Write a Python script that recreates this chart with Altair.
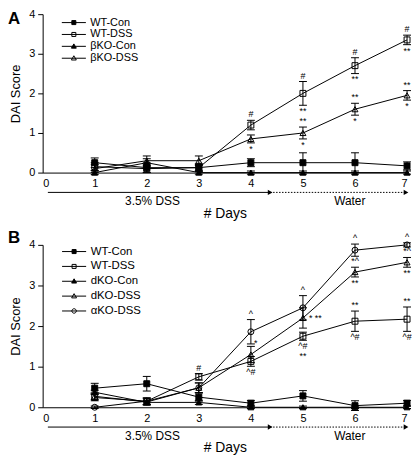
import altair as alt
import pandas as pd

FONT = "Liberation Sans"
W = 368

days = [1, 2, 3, 4, 5, 6, 7]

# ---------- Panel A ----------
a_series = ["WT-Con", "WT-DSS", "βKO-Con", "βKO-DSS"]
a_values = [
    [0.25, 0.125, 0.125, 0.25, 0.25, 0.25, 0.17],
    [0.15, 0.10, 0.125, 1.20, 2.00, 2.70, 3.35],
    [0.00, 0.25, 0.00, 0.00, 0.00, 0.00, 0.00],
    [0.10, 0.30, 0.30, 0.85, 1.00, 1.60, 1.95],
]
a_errors = [
    [0.12, 0.12, 0.10, 0.10, 0.25, 0.25, 0.10],
    [0.10, 0.10, 0.08, 0.12, 0.30, 0.20, 0.12],
    [0.05, 0.10, 0.04, 0.04, 0.04, 0.04, 0.04],
    [0.10, 0.12, 0.12, 0.10, 0.15, 0.15, 0.12],
]
a_shapes = ["square", "square", "triangle-up", "triangle-up"]
a_filled = [True, False, True, False]
a_ann_series = ["WT-DSS"] * 7 + ["βKO-DSS"] * 7
a_ann_day = [4, 5, 5, 6, 6, 7, 7, 4, 5, 5, 6, 6, 7, 7]
a_ann_text = ["#", "#", "**", "#", "**", "#", "**", "*", "**", "*", "**", "*", "**", "*"]
a_ann_side = ["above", "above", "below", "above", "below", "above", "below",
              "below", "above", "below", "above", "below", "above", "below"]

# ---------- Panel B ----------
b_series = ["WT-Con", "WT-DSS", "dKO-Con", "dKO-DSS", "αKO-DSS"]
b_values = [
    [0.47, 0.58, 0.25, 0.10, 0.28, 0.04, 0.10],
    [0.24, 0.15, 0.75, 1.13, 1.75, 2.12, 2.17],
    [0.37, 0.12, 0.12, 0.00, 0.00, 0.00, 0.00],
    [0.27, 0.13, 0.48, 1.30, 2.20, 3.33, 3.57],
    [0.00, 0.15, 0.48, 1.86, 2.45, 3.87, 4.00],
]
b_errors = [
    [0.12, 0.18, 0.10, 0.07, 0.13, 0.12, 0.07],
    [0.08, 0.08, 0.08, 0.12, 0.10, 0.25, 0.30],
    [0.05, 0.05, 0.05, 0.03, 0.03, 0.03, 0.03],
    [0.08, 0.08, 0.12, 0.20, 0.25, 0.12, 0.12],
    [0.03, 0.08, 0.12, 0.30, 0.30, 0.15, 0.05],
]
b_shapes = ["square", "square", "triangle-up", "triangle-up", "circle"]
b_filled = [True, False, True, False, False]
b_ann_series = (["αKO-DSS"] * 4 + ["dKO-DSS"] * 6 + ["WT-DSS"] * 8)
b_ann_day = [4, 5, 6, 7, 4, 5, 6, 6, 7, 7, 3, 4, 5, 5, 6, 6, 7, 7]
b_ann_text = ["^", "^", "^", "^", "*", "* **", "*^", "**", "*^", "**",
              "#", "^#", "^#", "**", "**", "^#", "**", "^#"]
b_ann_side = ["above", "above", "above", "above", "aboveright", "right", "above", "below", "above", "below",
              "above", "below", "below", "below2", "above", "below", "above", "below"]

# treatment phases along the day axis
phase_start = [0.1, 4.37]
phase_end = [4.37, 6.98]
phase_label = ["3.5% DSS", "Water"]
phase_label_x = [2.11, 5.9]

# legend glyphs (line through marker)
GLYPH = {
    "square": "M-2.7,0H2.7M-0.45,-0.45H0.45V0.45H-0.45Z",
    "triangle-up": "M-2.7,0H2.7M0,-0.55L0.55,0.4L-0.55,0.4Z",
    "circle": "M-2.7,0H2.7M-0.5,0A0.5,0.5,0,1,0,0.5,0A0.5,0.5,0,1,0,-0.5,0Z",
}


def x_enc(field):
    return alt.X(field, type="quantitative",
                 scale=alt.Scale(domain=[0, 7], nice=False, zero=False),
                 axis=alt.Axis(values=list(range(8)), ticks=False, tickSize=0, grid=False,
                               labelPadding=5, labelFontSize=11, title="# Days",
                               titleFontSize=14, titleY=34, titleBaseline="top"))


def y_enc(field):
    return alt.Y(field, type="quantitative",
                 scale=alt.Scale(domain=[0, 4], nice=False),
                 axis=alt.Axis(values=[0, 1, 2, 3, 4], tickSize=5, grid=False, format="d",
                               labelFontSize=11, labelPadding=3, title="DAI Score",
                               titleFontSize=13, titlePadding=6))


def panel(letter, series, values, errors, shapes, filled,
          ann_series, ann_day, ann_text, ann_side, legend_y, row_pad, label_size, height):
    H = height
    rows = []
    for s, vals, errs in zip(series, values, errors):
        for d, v, e in zip(days, vals, errs):
            rows.append({"series": s, "day": d, "value": v, "lo": v - e, "hi": v + e})
    df = pd.DataFrame(rows)

    ann = pd.DataFrame({"series": ann_series, "day": ann_day, "text": ann_text, "side": ann_side})
    ann = ann.merge(df, on=["series", "day"], how="left")

    fills = ["black" if f else "transparent" for f in filled]
    base = alt.Chart(df)

    lines = base.mark_line(color="black", strokeWidth=1).encode(
        x=x_enc("day"), y=y_enc("value"), detail="series:N", order="day:Q")
    stems = base.mark_rule(color="black", strokeWidth=1).encode(
        x=x_enc("day"), y=y_enc("lo"), y2="hi:Q")
    cap_hi = base.mark_tick(color="black", orient="horizontal", size=8, thickness=1, opacity=1).encode(
        x=x_enc("day"), y=y_enc("hi"))
    cap_lo = base.mark_tick(color="black", orient="horizontal", size=8, thickness=1, opacity=1).encode(
        x=x_enc("day"), y=y_enc("lo"))
    points = base.mark_point(opacity=1, size=36, strokeWidth=1, stroke="black").encode(
        x=x_enc("day"), y=y_enc("value"),
        shape=alt.Shape("series:N", scale=alt.Scale(domain=series, range=shapes), legend=None),
        fill=alt.Fill("series:N", scale=alt.Scale(domain=series, range=fills), legend=None),
    )

    leg = alt.Legend(orient="none", legendX=26, legendY=legend_y, title=None,
                     labelFont=FONT, labelFontSize=label_size, labelColor="black",
                     symbolSize=81, symbolStrokeWidth=1, rowPadding=row_pad,
                     labelOffset=11, padding=0)
    legend_layer = base.transform_filter("false").mark_point(opacity=1, size=81, strokeWidth=1).encode(
        x=x_enc("day"), y=y_enc("value"),
        shape=alt.Shape("series:N", scale=alt.Scale(domain=series, range=[GLYPH[s] for s in shapes]), legend=leg),
        fill=alt.Fill("series:N", scale=alt.Scale(domain=series, range=fills), legend=leg),
        stroke=alt.Stroke("series:N", scale=alt.Scale(domain=series, range=["black"] * len(series)), legend=leg),
    )

    tbase = alt.Chart(ann)
    tstyle = dict(font=FONT, fontSize=9, color="black")
    t_above = tbase.transform_filter("datum.side == 'above'").mark_text(
        baseline="bottom", dy=-1, **tstyle).encode(x=x_enc("day"), y=y_enc("hi"), text="text:N")
    t_aboveright = tbase.transform_filter("datum.side == 'aboveright'").mark_text(
        baseline="bottom", dy=2, dx=5, **tstyle).encode(x=x_enc("day"), y=y_enc("hi"), text="text:N")
    t_below = tbase.transform_filter("datum.side == 'below'").mark_text(
        baseline="top", dy=2, **tstyle).encode(x=x_enc("day"), y=y_enc("lo"), text="text:N")
    t_below2 = tbase.transform_filter("datum.side == 'below2'").mark_text(
        baseline="top", dy=12, **tstyle).encode(x=x_enc("day"), y=y_enc("lo"), text="text:N")
    t_right = tbase.transform_filter("datum.side == 'right'").mark_text(
        baseline="middle", align="left", dx=6, **tstyle).encode(x=x_enc("day"), y=y_enc("value"), text="text:N")

    ph = pd.DataFrame({"start": phase_start, "end": phase_end, "label": phase_label, "lx": phase_label_x})
    pb = alt.Chart(ph)
    arrow_solid = pb.transform_filter("datum.label == '3.5% DSS'").mark_rule(color="black", strokeWidth=1).encode(
        x=x_enc("start"), x2="end:Q", y=alt.value(H + 20))
    arrow_dot = pb.transform_filter("datum.label == 'Water'").mark_rule(
        color="black", strokeWidth=1, strokeDash=[1.5, 1.5]).encode(
        x=x_enc("start"), x2="end:Q", y=alt.value(H + 20))
    heads = pb.mark_point(shape="triangle-right", filled=True, color="black", size=30, opacity=1).encode(
        x=x_enc("end"), y=alt.value(H + 20))
    ph_text = pb.mark_text(font=FONT, fontSize=12, color="black", baseline="middle").encode(
        x=x_enc("lx"), y=alt.value(H + 29), text="label:N")

    letter_layer = alt.Chart(pd.DataFrame({"t": [letter]})).mark_text(
        font=FONT, fontSize=17, fontWeight="bold", color="black", align="left", baseline="top").encode(
        x=alt.value(-35), y=alt.value(-15 if letter == "B" else -3), text="t:N")

    return alt.layer(
        lines, stems, cap_hi, cap_lo, points, legend_layer,
        t_above, t_aboveright, t_below, t_below2, t_right,
        arrow_solid, arrow_dot, heads, ph_text, letter_layer,
    ).resolve_scale(shape="independent", fill="independent", stroke="independent").properties(
        width=W, height=H)


pa = panel("A", a_series, a_values, a_errors, a_shapes, a_filled,
           a_ann_series, a_ann_day, a_ann_text, a_ann_side,
           legend_y=3, row_pad=0, label_size=11, height=160)
pb_ = panel("B", b_series, b_values, b_errors, b_shapes, b_filled,
            b_ann_series, b_ann_day, b_ann_text, b_ann_side,
            legend_y=1, row_pad=2, label_size=11.5, height=164)

chart = alt.vconcat(pa, pb_, spacing=9).properties(
    padding={"top": -2, "left": 0, "right": 0, "bottom": 0}
).configure_view(stroke=None).configure_axis(
    labelFont=FONT, titleFont=FONT, labelColor="black", titleColor="black",
    domainColor="black", tickColor="black", titleFontWeight="normal", domainWidth=1, tickWidth=1)

chart.save("out.html", embed_options={"renderer": "svg", "actions": False})
